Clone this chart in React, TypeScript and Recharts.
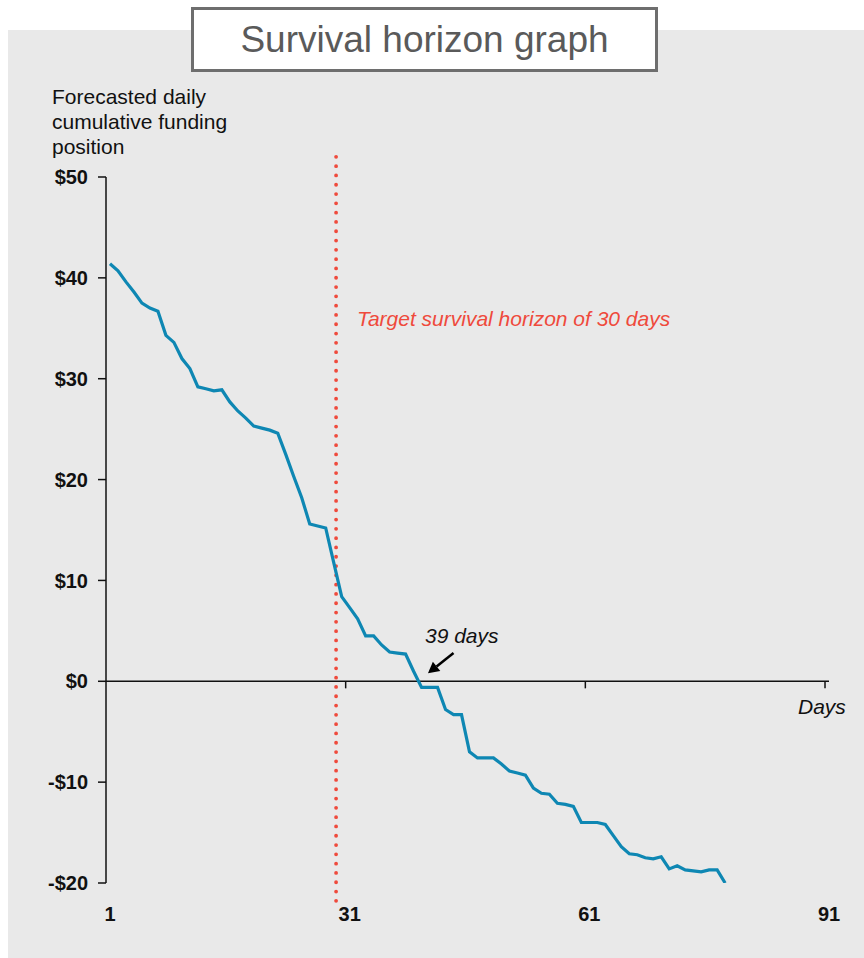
import { LineChart, Line, XAxis, YAxis, ReferenceLine } from 'recharts';

// forecasted daily cumulative funding position ($), day 1..78
const position = [
  41.4, 40.7, 39.6, 38.6, 37.5, 37.0, 36.7, 34.3, 33.6, 32.0,
  31.0, 29.2, 29.0, 28.8, 28.9, 27.7, 26.8, 26.1, 25.3, 25.1,
  24.9, 24.6, 22.5, 20.3, 18.2, 15.6, 15.4, 15.2, 11.8, 8.4,
  7.3, 6.2, 4.5, 4.5, 3.6, 2.9, 2.8, 2.7, 1.0, -0.6,
  -0.6, -0.6, -2.8, -3.3, -3.3, -7.0, -7.6, -7.6, -7.6, -8.2,
  -8.9, -9.1, -9.3, -10.6, -11.1, -11.2, -12.1, -12.2, -12.4, -14.0,
  -14.0, -14.0, -14.2, -15.3, -16.4, -17.1, -17.2, -17.5, -17.6, -17.4,
  -18.6, -18.3, -18.7, -18.8, -18.9, -18.7, -18.7, -20.0,
];

const yTicks = [-20, -10, 0, 10, 20, 30, 40, 50];
const xTickDays = [1, 31, 61, 91];
const xTickMarks = [30.5, 60.5, 90.5];
const targetLineDay = 29.3;
const crossArrow = { fromDay: 44, fromVal: 2.8, toDay: 40.8, toVal: 0.8 };

const data = position.map((v, i) => ({ day: i + 1, value: v }));

const RED = '#ef4a3c';
const FONT = '"Liberation Sans", Arial, sans-serif';

const fmtDollar = (v: number) => (v < 0 ? `-$${Math.abs(v)}` : `$${v}`);

function XTick(props: any) {
  const { x, y, payload } = props;
  return (
    <text
      x={x}
      y={y + 38}
      textAnchor="middle"
      fontFamily={FONT}
      fontWeight="bold"
      fontSize={20}
      fill="#111"
    >
      {payload.value}
    </text>
  );
}

function Arrow(props: any) {
  const { x1, y1, x2, y2 } = props;
  if (x1 == null) return null;
  const ang = Math.atan2(y2 - y1, x2 - x1);
  const len = 11;
  const w = 6;
  const bx = x2 - len * Math.cos(ang);
  const by = y2 - len * Math.sin(ang);
  const px = -Math.sin(ang) * w;
  const py = Math.cos(ang) * w;
  return (
    <g>
      <line x1={x1} y1={y1} x2={bx} y2={by} stroke="#000" strokeWidth={2.5} />
      <polygon points={`${x2},${y2} ${bx + px},${by + py} ${bx - px},${by - py}`} fill="#000" />
    </g>
  );
}

function DottedLine(props: any) {
  const { x1, y1, x2, y2 } = props;
  if (x1 == null) return null;
  return (
    <line
      x1={x1}
      y1={y1}
      x2={x2}
      y2={y2}
      stroke={RED}
      strokeWidth={3.8}
      strokeDasharray="0 9.3"
      strokeLinecap="round"
    />
  );
}

export default function App() {
  const textBase = { position: 'absolute' as const, fontFamily: FONT, whiteSpace: 'nowrap' as const };
  return (
    <div style={{ position: 'absolute', left: 0, top: 0, width: 864, height: 958, background: '#fff' }}>
      <div style={{ position: 'absolute', left: 8, top: 30, width: 856, height: 928, background: '#e9e9e9' }} />

      <div
        style={{
          position: 'absolute',
          left: 191,
          top: 7,
          width: 461,
          height: 59,
          background: '#fff',
          border: '3px solid #6e6e6e',
          display: 'flex',
          alignItems: 'center',
          justifyContent: 'center',
          fontFamily: FONT,
          fontSize: 37,
          color: '#5a5a5a',
        }}
      >
        Survival horizon graph
      </div>

      <div style={{ ...textBase, left: 52, top: 84, fontSize: 21, lineHeight: '25px', color: '#111' }}>
        Forecasted daily
        <br />
        cumulative funding
        <br />
        position
      </div>

      <div style={{ position: 'absolute', left: 0, top: 0 }}>
        <LineChart
          width={864}
          height={958}
          data={data}
          margin={{ top: 177, right: 35, bottom: 45, left: 46 }}
        >
          <XAxis
            dataKey="day"
            type="number"
            domain={[0.5, 91]}
            ticks={xTickDays}
            interval={0}
            allowDataOverflow
            axisLine={false}
            tickLine={false}
            tickSize={0}
            tickMargin={0}
            height={30}
            tick={<XTick />}
          />
          <YAxis
            type="number"
            domain={[-20, 50]}
            ticks={yTicks}
            interval={0}
            allowDataOverflow
            width={60}
            axisLine={{ stroke: '#111', strokeWidth: 1.5 }}
            tickLine={{ stroke: '#111', strokeWidth: 1.5 }}
            tickSize={8}
            tickMargin={10}
            tickFormatter={fmtDollar}
            tick={{ fill: '#111', fontSize: 20, fontWeight: 'bold', fontFamily: FONT }}
          />
          <ReferenceLine y={0} stroke="#111" strokeWidth={1.5} />
          {xTickMarks.map((d) => (
            <ReferenceLine
              key={d}
              segment={[
                { x: d, y: 0 },
                { x: d, y: -0.7 },
              ]}
              stroke="#111"
              strokeWidth={1.5}
              ifOverflow="visible"
            />
          ))}
          <ReferenceLine
            segment={[
              { x: targetLineDay, y: 52 },
              { x: targetLineDay, y: -22 },
            ]}
            ifOverflow="visible"
            shape={<DottedLine />}
          />
          <ReferenceLine
            segment={[
              { x: crossArrow.fromDay, y: crossArrow.fromVal },
              { x: crossArrow.toDay, y: crossArrow.toVal },
            ]}
            ifOverflow="visible"
            shape={<Arrow />}
          />
          <Line
            type="linear"
            dataKey="value"
            stroke="#0e87b3"
            strokeWidth={3.2}
            dot={false}
            isAnimationActive={false}
          />
        </LineChart>
      </div>

      <div style={{ ...textBase, left: 357, top: 307, fontSize: 21, fontStyle: 'italic', color: RED }}>
        Target survival horizon of 30 days
      </div>
      <div style={{ ...textBase, left: 425, top: 624, fontSize: 21, fontStyle: 'italic', color: '#111' }}>
        39 days
      </div>
      <div style={{ ...textBase, left: 798, top: 695, fontSize: 21, fontStyle: 'italic', color: '#111' }}>
        Days
      </div>
    </div>
  );
}
